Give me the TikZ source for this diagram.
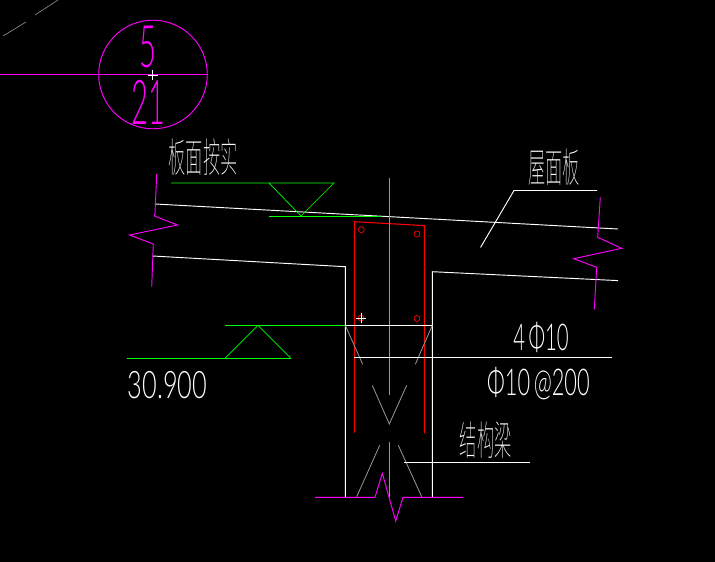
\documentclass[tikz,border=0pt]{standalone}
\usepackage{fontspec}
\newfontfamily\cadfont{Lato Light}
\newfontfamily\cadcjk{Noto Sans CJK SC Thin}
\definecolor{cadmagenta}{RGB}{255, 0, 255}
\definecolor{cadgreen}{RGB}{0, 255, 0}
\definecolor{cadred}{RGB}{255, 0, 0}
\definecolor{cadgrey}{RGB}{150, 150, 150}
\tikzset{
  wall/.style={draw=white, line width=0.8pt},
  axisline/.style={draw=cadgrey, line width=0.7pt},
  breakline/.style={draw=cadmagenta, line width=0.8pt},
  levelline/.style={draw=cadgreen, line width=0.8pt},
  levelmark/.style={draw=cadgreen, line width=0.6pt},
  rebar/.style={draw=cadred, line width=0.9pt},
  cadnum/.style={inner sep=0pt, text=white, font=\fontsize{30}{30}\selectfont\cadfont},
  cadmark/.style={inner sep=0pt, text=cadmagenta, font=\fontsize{40}{40}\selectfont\cadfont},
  cadword/.style={inner sep=0pt, text=white, font=\fontsize{30}{30}\selectfont\cadcjk}
}
\begin{document}
\begin{tikzpicture}[x=0.03cm, y=-0.03cm]
  \fill[black] (0, 0) rectangle (715, 562);
  \useasboundingbox (0, 0) rectangle (715, 562);

  % Section mark
  \draw[axisline, line width=0.5pt] (3, 36) -- (26, 22) (35, 15) -- (58, 0);
  \draw[breakline] (153, 74.5) circle (54.3);
  \draw[breakline] (0, 74.5) -- (207.5, 74.5);
  \draw[wall, line width=0.6pt] (147.5, 75) -- (157.5, 75) (152.5, 70) -- (152.5, 80);
  \node[cadmark, xscale=0.62, yscale=1.25] (marktop) at (148, 47.5) {5};
  \node[cadmark, xscale=0.62, yscale=1.32] (markbot) at (148, 102) {21};

  % Slab and beam outline
  \draw[wall] (155, 204) -- (618, 229);
  \draw[wall] (152.5, 256) -- (345.3, 266.7) -- (345.3, 497);
  \draw[wall] (432.3, 497) -- (432.3, 271.7) -- (618, 280.6);

  % Break lines
  \draw[breakline] (156.7, 174) -- (155, 213) -- (154.5, 216) -- (177.5, 225) -- (129.5, 235) -- (153.3, 244) -- (151.7, 286.7);
  \draw[breakline] (600.3, 197.3) -- (597.7, 237.3) -- (621.7, 248.3) -- (573.7, 258.7) -- (596.7, 267.3) -- (594.3, 309.3);
  \draw[breakline] (315, 497.3) -- (375, 497.3) -- (382.3, 473.3) -- (395.7, 521) -- (403, 497.3) -- (463, 497.3);

  % Slab level
  \draw[levelmark] (171, 183) -- (334, 183) -- (301, 216) -- (269, 183);
  \draw[levelline] (269, 216) -- (381, 216);
  \node[cadword, xscale=0.49, yscale=1.15] (slabnote) at (203, 157) {板面按实};

  % Beam level
  \draw[levelmark] (225, 325.4) -- (345.3, 325.4);
  \draw[levelmark] (225, 358.4) -- (258, 325.4) -- (291, 358.4);
  \draw[levelline] (127, 358.4) -- (291, 358.4);
  \node[cadnum, xscale=0.72, yscale=1.08] (level) at (167.5, 385.5) {30.900};

  % Stirrup and bars
  \draw[rebar] (354.3, 432.7) -- (354.3, 221.7) -- (424.4, 225.6) -- (424.4, 433.3);
  \foreach \barx/\bary in {361.3/229.7, 417/234, 361/318, 417/318.5}
    \draw[cadred, line width=0.6pt] (\barx, \bary) circle (3);

  % Axis and section cuts
  \draw[axisline] (389.3, 178) -- (389.3, 395.3) (389.3, 442) -- (389.3, 497);
  \draw[axisline] (345.3, 325.4) -- (362.7, 364.3) (432.3, 325.4) -- (415.3, 364.3);
  \draw[axisline] (372.3, 385.3) -- (389.3, 424) -- (406.7, 385.3);
  \draw[axisline] (379.7, 445.3) -- (356.7, 496.7) (398.3, 445.3) -- (421.7, 496.7);
  \draw[wall] (345.3, 325.4) -- (432.3, 325.4);
  \draw[wall, line width=0.6pt] (356, 318) -- (366, 318) (361, 313) -- (361, 323);

  % Slab leader
  \draw[wall] (480.5, 247.5) -- (514, 190.5) -- (597, 190.5);
  \node[cadword, xscale=0.49, yscale=1.15] (slabname) at (554, 167) {屋面板};

  % Rebar notes
  \draw[wall] (354.3, 357.3) -- (611.7, 357.3);
  \node[cadnum, xscale=0.58, yscale=1.05] (mainbar) at (541, 337) {4\,Φ10};
  \node[cadnum, xscale=0.62, yscale=1.05] (stirrup) at (538.5, 384) {Φ10\,@200};

  % Beam leader
  \draw[wall] (404, 462.3) -- (530, 462.3);
  \node[cadword, xscale=0.49, yscale=1.15] (beamname) at (485.7, 440) {结构梁};
\end{tikzpicture}
\end{document}
